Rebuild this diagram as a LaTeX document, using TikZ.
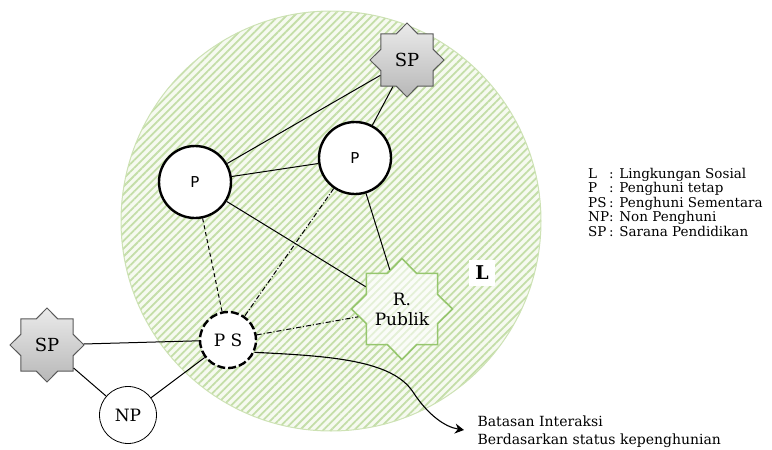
\documentclass[tikz,border=0pt]{standalone}
\usepackage{fontspec}
\setmainfont{DejaVu Serif}
\setsansfont{DejaVu Sans}
\usetikzlibrary{shapes.geometric,patterns.meta,arrows.meta}

\definecolor{hatchgreen}{RGB}{196,222,168}
\definecolor{hatchbg}{RGB}{246,250,240}
\definecolor{rimgreen}{RGB}{205,226,180}
\definecolor{starline}{RGB}{150,198,110}

\tikzset{
  person/.style={draw,circle,fill=white,line width=2.4pt,minimum size=72pt,inner sep=0pt,
    font=\sffamily\fontsize{15}{17}\selectfont},
  guest/.style={draw,circle,fill=white,line width=2.4pt,dash pattern=on 8pt off 3pt,
    minimum size=56pt,inner sep=0pt,font=\fontsize{17}{19}\selectfont},
  outsider/.style={draw,circle,fill=white,line width=0.8pt,minimum size=57pt,inner sep=0pt,
    font=\fontsize{17}{19}\selectfont},
  school/.style={star,star points=8,star point ratio=1.31,minimum size=74pt,inner sep=0pt,
    draw=black!65,line width=1pt,top color=black!8,bottom color=black!28,
    font=\fontsize{18}{20}\selectfont},
  plaza/.style={star,star points=8,star point ratio=1.31,minimum size=86pt,inner sep=0pt,
    draw=starline,line width=1.6pt,fill=white,fill opacity=0.55,text opacity=1,align=center,
    font=\fontsize{17}{20}\selectfont},
  link/.style={line width=1pt},
  weak/.style={line width=1pt,dash pattern=on 4pt off 3pt},
  weakdot/.style={line width=1pt,dash pattern=on 5pt off 2pt on 1pt off 2pt}
}

\begin{document}
\begin{tikzpicture}[x=1pt,y=-1pt,font=\fontsize{16}{18}\selectfont]
  \useasboundingbox (0,0) rectangle (772,450);

  % social environment
  \fill[hatchbg] (331,221) circle (210);
  \fill[pattern={Lines[angle=45,distance=5.5pt,line width=1.8pt]},pattern color=hatchgreen]
    (331,221) circle (210);
  \draw[rimgreen,line width=1pt] (331,221) circle (210);

  \node(spt)[school] at (407,60) {SP};
  \node(pl)[person] at (195,182) {P};
  \node(pr)[person] at (355,158) {P};
  \node(ps)[guest] at (228,340) {P S};
  \node(rp)[plaza] at (402,309) {R.\\Publik};
  \node(spl)[school] at (47,345) {SP};
  \node(np)[outsider] at (128,415) {NP};
  \node(l)[fill=white,inner sep=6pt,font=\bfseries\fontsize{19}{21}\selectfont] at (482,273) {L};

  \draw [link] (pl) -- (spt);
  \draw [link] (pr) -- (spt);
  \draw [link] (pl) -- (pr);
  \draw [link] (pl) -- (rp);
  \draw [link] (pr) -- (rp);
  \draw [weak] (pl) -- (ps);
  \draw [weakdot] (pr) -- (ps);
  \draw [weakdot] (ps) -- (rp);
  \draw [link] (spl) -- (ps);
  \draw [link] (spl) -- (np);
  \draw [link] (np) -- (ps);

  % boundary note
  \coordinate (tip) at (464,430);
  \node(note)[anchor=west,align=left,font=\fontsize{14}{18}\selectfont] at (474,432)
    {Batasan Interaksi\\Berdasarkan status kepenghunian};
  \draw [-{Stealth[length=9pt,width=10pt]},line width=1.1pt]
    (ps.-25) .. controls (330,356) and (392,360) .. (413,392)
    .. controls (428,415) and (445,427) .. (tip);

  % legend
  \node(legend)[anchor=north west,align=left,inner sep=0pt,font=\fontsize{13.5}{14}\selectfont] at (588,168)
    {\begin{tabular}{@{}l@{}l@{}}
      L & : Lingkungan Sosial\\
      P & : Penghuni tetap\\
      PS & : Penghuni Sementara\\
      NP & : Non Penghuni\\
      SP & : Sarana Pendidikan
    \end{tabular}};
\end{tikzpicture}
\end{document}
